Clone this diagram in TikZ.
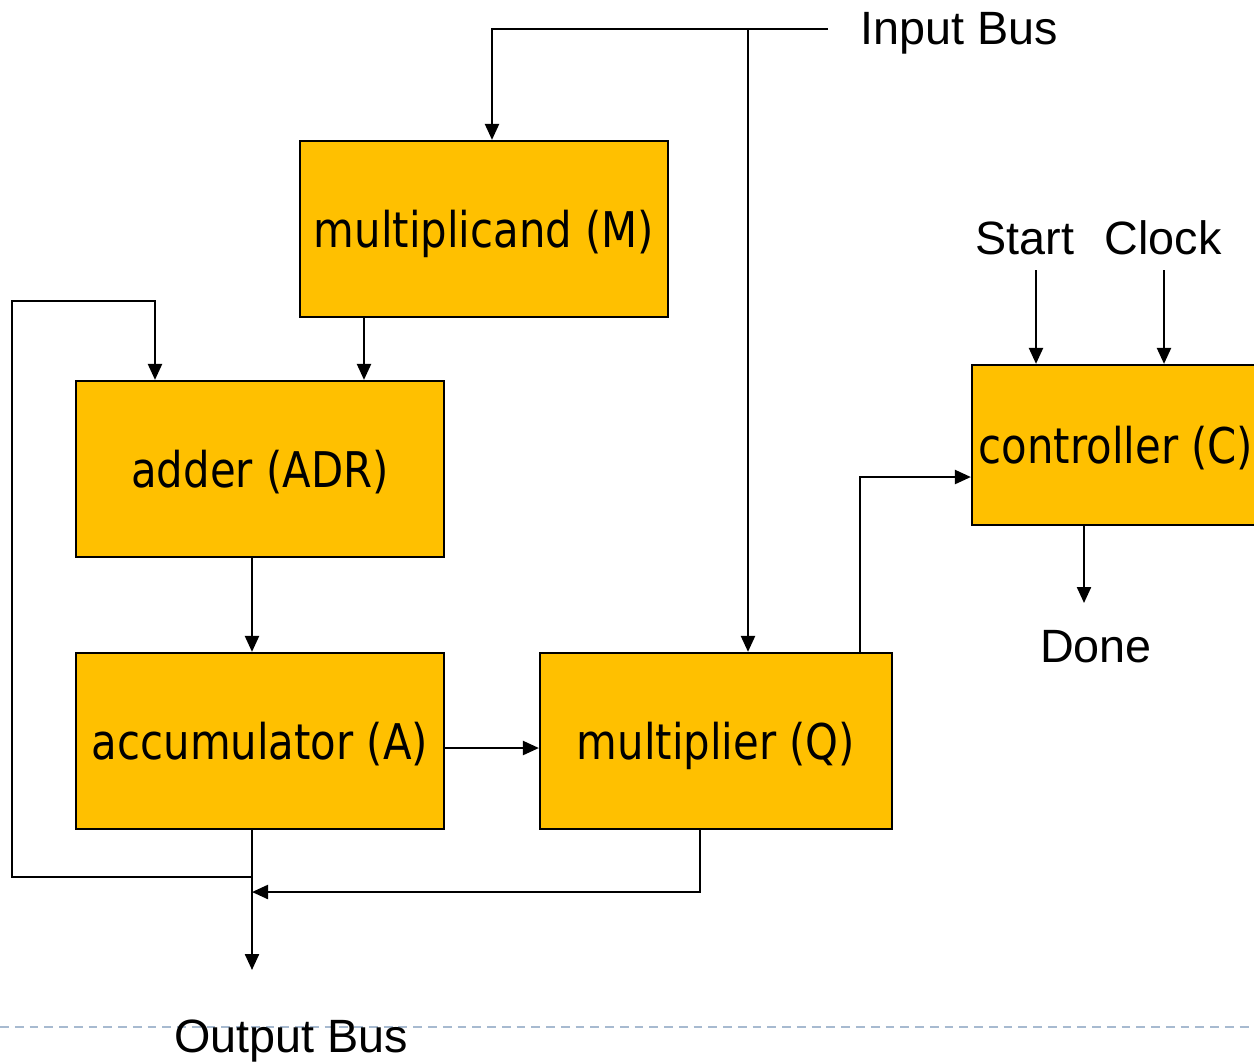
\documentclass[tikz,border=0pt]{standalone}
\usepackage{fontspec}
\setmainfont{Liberation Sans}
\newfontfamily\regfont[FakeStretch=0.85]{DejaVu Sans}
\usetikzlibrary{arrows.meta}
\definecolor{regfill}{HTML}{FFC000}
\definecolor{pagerule}{HTML}{A7BAD0}
\tikzset{
  reg/.style={draw, line width=1.3pt, fill=regfill, minimum width=7.36cm,
    minimum height=3.52cm, inner sep=0pt, text depth=0pt,
    font=\regfont\fontsize{28}{32}\selectfont},
  wire/.style={line width=1.3pt},
  sig/.style={wire, -{Triangle[length=0.32cm,width=0.28cm]}},
  lbl/.style={inner sep=0pt, font=\fontsize{26.6}{30}\selectfont},
}
\begin{document}
\begin{tikzpicture}[x=0.02cm, y=-0.02cm]
  \useasboundingbox (0,0) rectangle (1254,1063);
  \draw[pagerule, line width=0.8pt, dash pattern=on 5pt off 3.4pt] (0,1027) -- (1254,1027);

  % registers and controller
  \node[reg] (M)   at (484,229) {multiplicand (M)};
  \node[reg] (ADR) at (260,469) {adder (ADR)};
  \node[reg] (A)   at (260,741) {accumulator (A)};
  \node[reg, minimum width=7.04cm] (Q) at (716,741) {multiplier (Q)};
  \node[reg, minimum width=5.76cm, minimum height=3.2cm] (C) at (1116,445) {controller (C)};

  % outside signals
  \node[lbl, anchor=west] (inbus) at (860,33) {Input Bus};
  \node[lbl] (start)  at (1025,238) {Start};
  \node[lbl] (clock)  at (1163,238) {Clock};
  \node[lbl] (done)   at (1096,647) {Done};
  \node[lbl] (outbus) at (291,1041) {Output Bus};

  % taps on the wires
  \coordinate (busend) at (828,29);
  \coordinate (qin)  at (748,0);
  \coordinate (mtap) at (364,0);
  \coordinate (otap) at (252,0);
  \coordinate (aq)   at (0,748);
  \coordinate (qc)   at (860,477);
  \coordinate (fb)   at (12,877);
  \coordinate (fbtop) at (155,301);
  \coordinate (qtap) at (700,892);
  \coordinate (outend) at (252,970);
  \coordinate (st) at (1036,270);
  \coordinate (ck) at (1164,270);
  \coordinate (dn) at (1084,603);

  % input bus
  \draw[sig] (busend) -| ([xshift=0.16cm]M.north);
  \draw[sig] (qin |- busend) -- (qin |- Q.north);

  % data path
  \draw[sig] (mtap |- M.south) -- (mtap |- ADR.north);
  \draw[sig] (otap |- ADR.south) -- (otap |- A.north);
  \draw[sig] (aq -| A.east) -- (aq -| Q.west);
  \draw[sig] (otap |- fb) -- (fb) |- (fbtop) -- (fbtop |- ADR.north);
  \draw[sig] (qtap |- Q.south) |- (otap |- qtap);
  \draw[sig] (otap |- A.south) -- (outend);

  % control
  \draw[sig] (qc |- Q.north) |- (C.west |- qc);
  \draw[sig] (st) -- (st |- C.north);
  \draw[sig] (ck) -- (ck |- C.north);
  \draw[sig] (dn |- C.south) -- (dn);
\end{tikzpicture}
\end{document}
